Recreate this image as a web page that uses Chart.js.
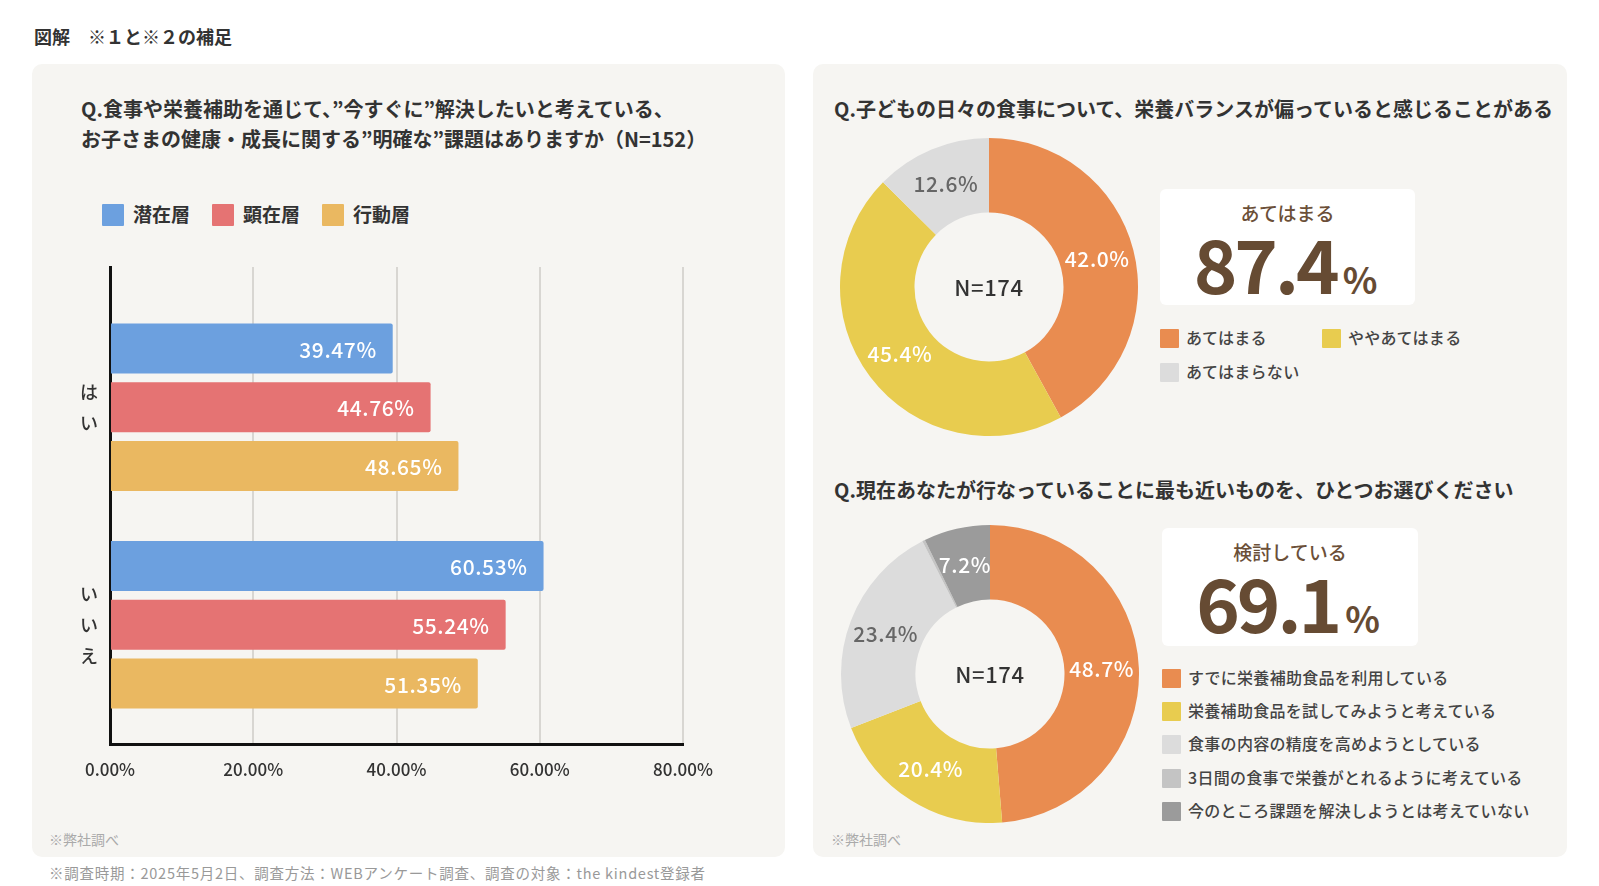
<!DOCTYPE html>
<html><head><meta charset="utf-8">
<script src="https://cdn.jsdelivr.net/npm/chart.js@4"></script>
<style>
body{margin:0;background:#fff;width:1599px;height:886px;position:relative;overflow:hidden;font-family:"Noto Sans CJK JP",sans-serif;color:#333}
.t{position:absolute;white-space:nowrap}
.panel{position:absolute;background:#f6f5f2;border-radius:10px}
.q{font-size:20px;font-weight:700;color:#333;line-height:30px}
.note{font-size:14px;color:#aaa}
.box{position:absolute;background:#fff;border-radius:6px;text-align:center}
.box .h{font-size:19px;font-weight:500;color:#6b4f38;margin-top:9px;line-height:30px}
.box .big{font-size:74px;font-weight:700;color:#664b33;line-height:74px;letter-spacing:-3px;margin-top:-3px;margin-left:-4px}
.box .big span{font-size:36px;letter-spacing:0;margin-left:6px}
.lg{position:absolute;font-size:16px;font-weight:500;color:#444;line-height:20px;white-space:nowrap;letter-spacing:0.3px}
.lg i{display:inline-block;width:19px;height:19px;vertical-align:-4px;margin-right:7px;border-radius:1px}
canvas{position:absolute}
</style></head>
<body>
<div class="t" style="left:34px;top:22px;font-size:18px;font-weight:700;line-height:28px">図解　※１と※２の補足</div>

<div class="panel" style="left:32px;top:64px;width:753px;height:793px"></div>
<div class="panel" style="left:813px;top:64px;width:754px;height:793px"></div>

<div class="t q" style="left:81px;top:94px">Q.食事や栄養補助を通じて、”今すぐに”解決したいと考えている、<br>お子さまの健康・成長に関する”明確な”課題はありますか（N=152）</div>
<div id="barLegend"></div>
<canvas id="bar" width="700" height="560" style="left:60px;top:240px;width:700px;height:560px"></canvas>
<div class="t note" style="left:49px;top:829px">※弊社調べ</div>

<div class="t q" style="left:834px;top:94px">Q.子どもの日々の食事について、栄養バランスが偏っていると感じることがある</div>
<canvas id="d1" width="298" height="298" style="left:840px;top:138px;width:298px;height:298px"></canvas>
<div class="box" style="left:1160px;top:189px;width:255px;height:116px"><div class="h" id="c1h"></div><div class="big" id="c1v"></div></div>
<div id="leg1"></div>

<div class="t q" style="left:834px;top:475px">Q.現在あなたが行なっていることに最も近いものを、ひとつお選びください</div>
<canvas id="d2" width="298" height="298" style="left:841px;top:525px;width:298px;height:298px"></canvas>
<div class="box" style="left:1162px;top:528px;width:256px;height:118px"><div class="h" id="c2h"></div><div class="big" id="c2v"></div></div>
<div id="leg2"></div>
<div class="t note" style="left:831px;top:829px">※弊社調べ</div>

<div class="t" style="left:49px;top:862px;font-size:14.5px;color:#999;letter-spacing:0.75px">※調査時期：2025年5月2日、調査方法：WEBアンケート調査、調査の対象：the kindest登録者</div>

<script>
// ---- data ----
const barCategories = [['は','い'], ['い','い','え']];
const barSeriesNames = ['潜在層', '顕在層', '行動層'];
const latentValues = [39.47, 60.53];
const apparentValues = [44.76, 55.24];
const activeValues = [48.65, 51.35];
const xTickValues = [0, 20, 40, 60, 80];

const donut1Labels = ['あてはまる', 'ややあてはまる', 'あてはまらない'];
const donut1Values = [42.0, 45.4, 12.6];
const donut1N = 174;
const donut1Headline = 'あてはまる';
const donut1HeadlineValue = 87.4;

const donut2Labels = ['すでに栄養補助食品を利用している', '栄養補助食品を試してみようと考えている', '食事の内容の精度を高めようとしている', '3日間の食事で栄養がとれるように考えている', '今のところ課題を解決しようとは考えていない'];
const donut2Values = [48.7, 20.4, 23.4, 0.3, 7.2];
const donut2N = 174;
const donut2Headline = '検討している';
const donut2HeadlineValue = 69.1;

// ---- styles ----
const barColors = ['#6ca0df', '#e57373', '#eab861'];
const donut1Colors = ['#e98c50', '#e8cc4f', '#dcdcdc'];
const donut1LabelColors = ['#fff', '#fff', '#666'];
const donut2Colors = ['#e98c50', '#e8cc4f', '#dcdcdc', '#c4c4c4', '#9b9b9b'];
const donut2LabelColors = ['#fff', '#fff', '#666', '#666', '#fff'];
const FONT = '"Noto Sans CJK JP", sans-serif';

// legends (HTML)
const barLegendX = [102, 212, 322];
document.getElementById('barLegend').innerHTML = barSeriesNames.map((n, i) =>
  `<div class="lg" style="left:${barLegendX[i]}px;top:203px;font-size:19px;font-weight:700;color:#333;line-height:22px;letter-spacing:0"><i style="background:${barColors[i]};width:22px;height:22px;vertical-align:-4px;margin-right:9px"></i>${n}</div>`).join('');

const leg1Pos = [[1160, 327], [1322, 327], [1160, 361]];
document.getElementById('leg1').innerHTML = donut1Labels.map((n, i) =>
  `<div class="lg" style="left:${leg1Pos[i][0]}px;top:${leg1Pos[i][1]}px"><i style="background:${donut1Colors[i]}"></i>${n}</div>`).join('');
document.getElementById('leg2').innerHTML = donut2Labels.map((n, i) =>
  `<div class="lg" style="left:1162px;top:${667 + i * 33.2}px"><i style="background:${donut2Colors[i]}"></i>${n}</div>`).join('');

document.getElementById('c1h').textContent = donut1Headline;
document.getElementById('c1v').innerHTML = donut1HeadlineValue.toFixed(1) + '<span>%</span>';
document.getElementById('c2h').textContent = donut2Headline;
document.getElementById('c2v').innerHTML = donut2HeadlineValue.toFixed(1) + '<span>%</span>';

// ---- bar chart ----
const toPts = arr => arr.map((v, i) => ({x: v, y: i}));
const barLabelPlugin = {
  id: 'barLabels',
  afterDatasetsDraw(chart) {
    const ctx = chart.ctx;
    ctx.save();
    ctx.font = '500 21px ' + FONT;
    ctx.letterSpacing = '0.6px';
    ctx.fillStyle = '#fff';
    ctx.textAlign = 'right';
    ctx.textBaseline = 'middle';
    chart.data.datasets.forEach((ds, di) => {
      chart.getDatasetMeta(di).data.forEach((el, i) => {
        ctx.fillText(ds.data[i].x.toFixed(2) + '%', el.x - 16, el.y + 1);
      });
    });
    ctx.restore();
  }
};

new Chart(document.getElementById('bar'), {
  type: 'bar',
  data: {
    datasets: [
      {label: barSeriesNames[0], data: toPts(latentValues), backgroundColor: barColors[0]},
      {label: barSeriesNames[1], data: toPts(apparentValues), backgroundColor: barColors[1]},
      {label: barSeriesNames[2], data: toPts(activeValues), backgroundColor: barColors[2]}
    ]
  },
  options: {
    indexAxis: 'y',
    responsive: false,
    animation: false,
    layout: {padding: {left: 0, top: 27, right: 77, bottom: 0}},
    datasets: {bar: {categoryPercentage: 0.81, barPercentage: 0.85, borderRadius: 2}},
    plugins: {legend: {display: false}, tooltip: {enabled: false}},
    scales: {
      x: {
        type: 'linear', min: 0, max: 80,
        afterBuildTicks: s => { s.ticks = xTickValues.map(v => ({value: v})); },
        afterFit: s => { s.height = 56; },
        grid: {color: '#d8d6d2', lineWidth: 2, drawTicks: false},
        border: {display: true, color: '#111', width: 3},
        ticks: {padding: 15, color: '#333', font: {family: FONT, size: 17, weight: 500}, callback: v => v.toFixed(2) + '%'}
      },
      y: {
        type: 'linear', reverse: true, offset: false, min: -0.645, max: 1.548,
        afterBuildTicks: s => { s.ticks = barCategories.map((c, i) => ({value: i})); },
        afterFit: s => { s.width = 50; s.paddingTop = 0; s.paddingBottom = 0; },
        grid: {display: false, drawTicks: false},
        border: {display: true, color: '#111', width: 3},
        ticks: {padding: 12, color: '#333', font: {family: FONT, size: 18, weight: 500, lineHeight: 1.72}, callback: v => barCategories[v]}
      }
    }
  },
  plugins: [barLabelPlugin]
});

// ---- doughnuts ----
function donutPlugin(n, labelColors) {
  return {
    id: 'donutText',
    afterDatasetsDraw(chart) {
      const ctx = chart.ctx;
      const meta = chart.getDatasetMeta(0);
      const values = chart.data.datasets[0].data;
      ctx.save();
      ctx.textAlign = 'center';
      ctx.textBaseline = 'middle';
      ctx.letterSpacing = '0.6px';
      meta.data.forEach((arc, i) => {
        if (values[i] < 1) return;
        const mid = (arc.startAngle + arc.endAngle) / 2;
        const r = (arc.innerRadius + arc.outerRadius) / 2;
        ctx.font = '500 21px ' + FONT;
        ctx.fillStyle = labelColors[i];
        ctx.fillText(values[i].toFixed(1) + '%', arc.x + Math.cos(mid) * r, arc.y + Math.sin(mid) * r);
      });
      const a = meta.data[0];
      ctx.font = '500 22px ' + FONT;
      ctx.fillStyle = '#333';
      ctx.fillText('N=' + n, a.x, a.y + 1);
      ctx.restore();
    }
  };
}
function makeDonut(id, labels, values, colors, labelColors, n) {
  new Chart(document.getElementById(id), {
    type: 'doughnut',
    data: {labels, datasets: [{data: values, backgroundColor: colors, borderWidth: 0}]},
    options: {
      responsive: false, animation: false, cutout: '50%',
      layout: {padding: 0},
      plugins: {legend: {display: false}, tooltip: {enabled: false}}
    },
    plugins: [donutPlugin(n, labelColors)]
  });
}
makeDonut('d1', donut1Labels, donut1Values, donut1Colors, donut1LabelColors, donut1N);
makeDonut('d2', donut2Labels, donut2Values, donut2Colors, donut2LabelColors, donut2N);
</script>
</body></html>
